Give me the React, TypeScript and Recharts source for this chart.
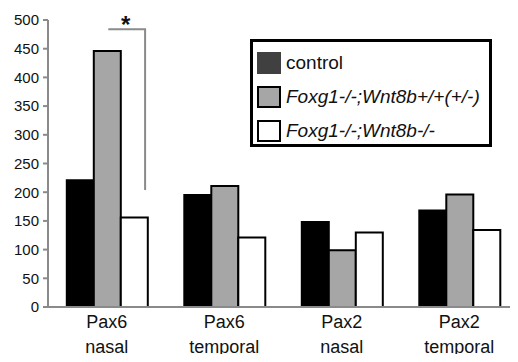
import React from "react";
import { BarChart, Bar, XAxis, YAxis, Legend, LabelList } from "recharts";

const categories = ["Pax6 nasal", "Pax6 temporal", "Pax2 nasal", "Pax2 temporal"];
const controlValues = [221, 195, 148, 168];
const foxWnt8bHetValues = [446, 211, 99, 196];
const foxWnt8bNullValues = [156, 121, 130, 134];
const seriesNames = ["control", "Foxg1-/-;Wnt8b+/+(+/-)", "Foxg1-/-;Wnt8b-/-"];
const seriesFills = ["#000000", "#a6a6a6", "#ffffff"];
const legendFills = ["#404040", "#a6a6a6", "#ffffff"];
const legendItalic = [false, true, true];
const yTicks = [0, 50, 100, 150, 200, 250, 300, 350, 400, 450, 500];
const sigTop = 484;
const sigBottom = 204;
const sigLabel = "*";

const data = categories.map((c, i) => ({
  name: c,
  control: controlValues[i],
  het: foxWnt8bHetValues[i],
  nul: foxWnt8bNullValues[i],
}));

const FONT = "'Liberation Sans', Arial, sans-serif";
const AXIS = "#8a8a8a";

const CatTick = (props: any) => {
  const { x, y, payload } = props;
  const parts = String(payload.value).split(" ");
  return (
    <g>
      <text x={x} y={y + 13} textAnchor="middle" fontSize={18} fontFamily={FONT} fill="#111">
        {parts[0]}
      </text>
      <text x={x} y={y + 38} textAnchor="middle" fontSize={18} fontFamily={FONT} fill="#111">
        {parts[1]}
      </text>
    </g>
  );
};

const SigBracket = (props: any) => {
  const { x, y, width, height, value, index } = props;
  if (index !== 0) return null;
  const bottom = y + height;
  const ppu = height / value;
  const yTop = bottom - sigTop * ppu;
  const yBot = bottom - sigBottom * ppu;
  const left = x + width / 2 + 1;
  const right = x + width * 1.9;
  return (
    <g>
      <polyline
        points={`${left},${yTop} ${right},${yTop} ${right},${yBot}`}
        fill="none"
        stroke={AXIS}
        strokeWidth={2}
      />
      <text
        x={(left + right) / 2 - 1}
        y={yTop + 4}
        textAnchor="middle"
        fontSize={24}
        fontWeight="bold"
        fontFamily={FONT}
        fill="#111"
      >
        {sigLabel}
      </text>
    </g>
  );
};

const LegendBox = () => (
  <div
    style={{
      border: "3px solid #000",
      width: 236,
      height: 98,
      boxSizing: "content-box",
      background: "#fff",
      fontFamily: FONT,
      fontSize: 19,
      color: "#111",
      paddingTop: 4,
    }}
  >
    {seriesNames.map((n, i) => (
      <div key={n} style={{ display: "flex", alignItems: "center", height: 34, paddingLeft: 4 }}>
        <div
          style={{
            width: 20,
            height: 18,
            background: legendFills[i],
            border: i === 0 ? "2px solid #404040" : "2px solid #000",
            marginRight: 5,
          }}
        />
        <span style={{ fontStyle: legendItalic[i] ? "italic" : "normal", whiteSpace: "nowrap" }}>{n}</span>
      </div>
    ))}
  </div>
);

export default function App() {
  return (
    <div style={{ margin: -8, width: 518, height: 362, background: "#fff", position: "relative" }}>
      <BarChart
        width={518}
        height={362}
        data={data}
        margin={{ top: 20, right: 0, left: 0, bottom: 0 }}
        barCategoryGap="16%"
        barGap={0}
      >
        <XAxis
          dataKey="name"
          axisLine={{ stroke: AXIS, strokeWidth: 2 }}
          tickLine={false}
          height={55}
          tick={<CatTick />}
          interval={0}
        />
        <YAxis
          domain={[0, 500]}
          ticks={yTicks}
          width={48}
          axisLine={{ stroke: AXIS, strokeWidth: 2 }}
          tickLine={{ stroke: AXIS, strokeWidth: 2 }}
          tickSize={5}
          tickMargin={4}
          tick={{ fontSize: 15, fontFamily: FONT, fill: "#111" }}
          interval={0}
        />
        <Legend
          layout="vertical"
          align="center"
          verticalAlign="middle"
          wrapperStyle={{ position: "absolute", left: 250, top: 39, width: 242 }}
          content={() => <LegendBox />}
        />
        <Bar dataKey="control" name={seriesNames[0]} fill={seriesFills[0]} stroke="#000" strokeWidth={2} isAnimationActive={false} />
        <Bar dataKey="het" name={seriesNames[1]} fill={seriesFills[1]} stroke="#000" strokeWidth={2} isAnimationActive={false}>
          <LabelList dataKey="het" content={<SigBracket />} />
        </Bar>
        <Bar dataKey="nul" name={seriesNames[2]} fill={seriesFills[2]} stroke="#000" strokeWidth={2} isAnimationActive={false} />
      </BarChart>
    </div>
  );
}
